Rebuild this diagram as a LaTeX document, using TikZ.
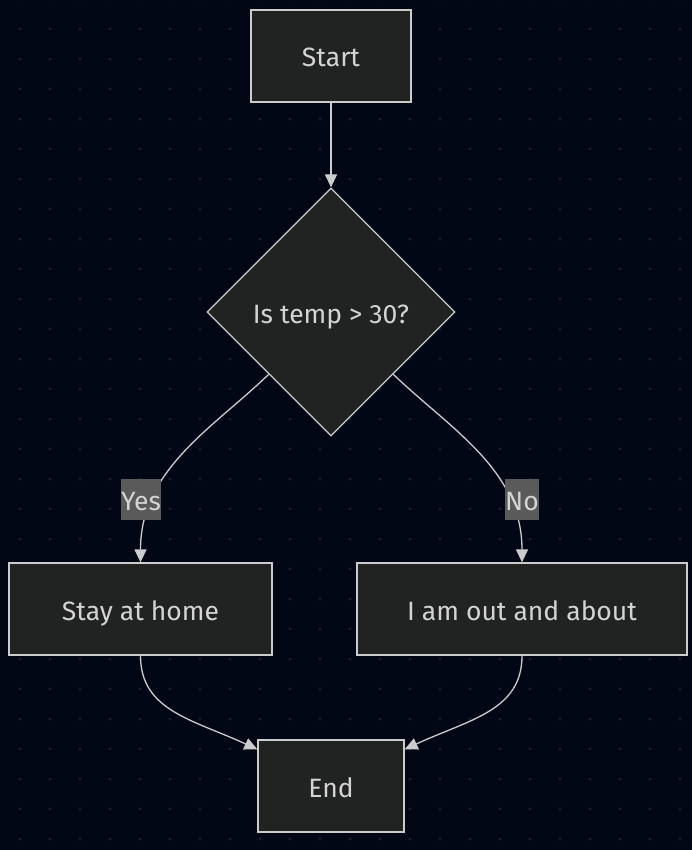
\documentclass[tikz,border=0pt]{standalone}
\usepackage{fontspec}
\setmainfont{Fira Sans}
\usetikzlibrary{shapes.geometric,arrows.meta,calc}
\definecolor{bgc}{HTML}{020716}
\definecolor{dotc}{HTML}{1A1F2E}
\definecolor{nodefill}{HTML}{212222}
\definecolor{edgec}{HTML}{CCCCCC}
\definecolor{txtc}{HTML}{D4D4D4}
\definecolor{lblfill}{HTML}{5A5A5A}
\begin{document}
\begin{tikzpicture}[x=1pt,y=-1pt,
  txt/.style={text=txtc,font=\fontsize{26.5}{30}\selectfont,text height=24pt,text depth=2pt},
  box/.style={txt,draw=edgec,line width=1.3pt,fill=nodefill,minimum height=92pt,inner sep=0pt},
  dec/.style={txt,diamond,draw=edgec,line width=1.3pt,fill=nodefill,minimum width=248pt,minimum height=248pt,inner sep=0pt},
  lbl/.style={txt,fill=lblfill,inner xsep=0pt,inner ysep=0pt,minimum height=41pt},
  conn/.style={draw=edgec,line width=1.3pt,-{Triangle[length=13pt,width=12pt]}}]
\fill[bgc] (0,0) rectangle (692,850);
\useasboundingbox (0,0) rectangle (692,850);
\foreach \i in {0,...,22}{\foreach \j in {0,...,28}{\fill[dotc] (20+30*\i,-1+30*\j) circle (1.6);}}
\node[box,minimum width=160pt] (st) at (331,56) {Start};
\node[dec] (d) at (331,312) {Is temp > 30?};
\node[box,minimum width=263pt] (s) at (140.5,609) {Stay at home};
\node[box,minimum width=330pt] (o) at (522,609) {I am out and about};
\node[box,minimum width=146pt] (e) at (331,786) {End};
\draw[conn] (st.south) -- (d.north);
\draw[conn] (d.south west) .. controls +(-56,54) and +(0,-93) .. (s.north);
\draw[conn] (d.south east) .. controls +(56,54) and +(0,-93) .. (o.north);
\draw[conn] (s.south) .. controls +(0,55) and +(-65,-30) .. ([yshift=-10pt]e.north west);
\draw[conn] (o.south) .. controls +(0,55) and +(65,-30) .. ([yshift=-10pt]e.north east);
\node[lbl] (ly) at (141,499.5) {Yes};
\node[lbl] (ln) at (522,499.5) {No};
\end{tikzpicture}
\end{document}
